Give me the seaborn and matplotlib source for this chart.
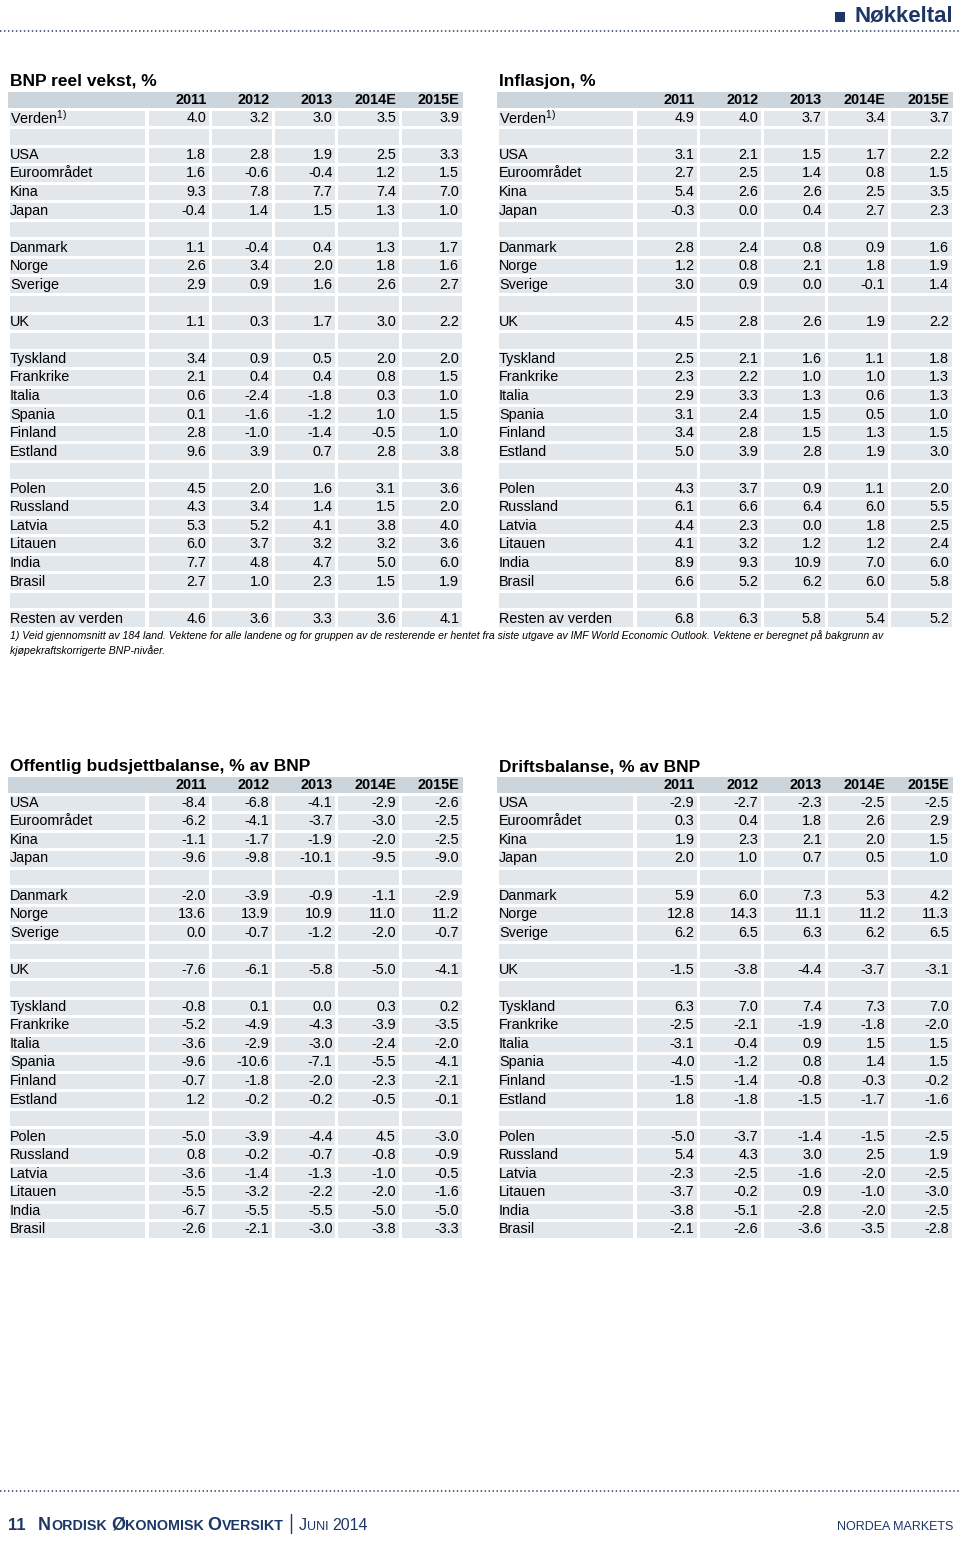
import numpy as np
import pandas as pd
import matplotlib
matplotlib.use('Agg')
import matplotlib.pyplot as plt
from matplotlib.colors import ListedColormap
from matplotlib.lines import Line2D
from matplotlib.patches import Rectangle
import seaborn as sns

sns.set_theme(style='white')
plt.rcParams['font.family'] = ['Liberation Sans', 'DejaVu Sans']
plt.rcParams['mathtext.fontset'] = 'custom'
plt.rcParams['mathtext.rm'] = 'Liberation Sans'
plt.rcParams['mathtext.it'] = 'Liberation Sans:italic'

years = ['2011', '2012', '2013', '2014E', '2015E']

top_rows = ['Verden$^{1)}$', '', 'USA', 'Euroområdet', 'Kina', 'Japan', '',
            'Danmark', 'Norge', 'Sverige', '', 'UK', '',
            'Tyskland', 'Frankrike', 'Italia', 'Spania', 'Finland', 'Estland', '',
            'Polen', 'Russland', 'Latvia', 'Litauen', 'India', 'Brasil', '',
            'Resten av verden']
bottom_rows = ['USA', 'Euroområdet', 'Kina', 'Japan', '',
               'Danmark', 'Norge', 'Sverige', '', 'UK', '',
               'Tyskland', 'Frankrike', 'Italia', 'Spania', 'Finland', 'Estland', '',
               'Polen', 'Russland', 'Latvia', 'Litauen', 'India', 'Brasil']

# BNP reel vekst, %
bnp = [[4.0, 3.2, 3.0, 3.5, 3.9], None,
       [1.8, 2.8, 1.9, 2.5, 3.3], [1.6, -0.6, -0.4, 1.2, 1.5],
       [9.3, 7.8, 7.7, 7.4, 7.0], [-0.4, 1.4, 1.5, 1.3, 1.0], None,
       [1.1, -0.4, 0.4, 1.3, 1.7], [2.6, 3.4, 2.0, 1.8, 1.6],
       [2.9, 0.9, 1.6, 2.6, 2.7], None,
       [1.1, 0.3, 1.7, 3.0, 2.2], None,
       [3.4, 0.9, 0.5, 2.0, 2.0], [2.1, 0.4, 0.4, 0.8, 1.5],
       [0.6, -2.4, -1.8, 0.3, 1.0], [0.1, -1.6, -1.2, 1.0, 1.5],
       [2.8, -1.0, -1.4, -0.5, 1.0], [9.6, 3.9, 0.7, 2.8, 3.8], None,
       [4.5, 2.0, 1.6, 3.1, 3.6], [4.3, 3.4, 1.4, 1.5, 2.0],
       [5.3, 5.2, 4.1, 3.8, 4.0], [6.0, 3.7, 3.2, 3.2, 3.6],
       [7.7, 4.8, 4.7, 5.0, 6.0], [2.7, 1.0, 2.3, 1.5, 1.9], None,
       [4.6, 3.6, 3.3, 3.6, 4.1]]

# Inflasjon, %
inflasjon = [[4.9, 4.0, 3.7, 3.4, 3.7], None,
             [3.1, 2.1, 1.5, 1.7, 2.2], [2.7, 2.5, 1.4, 0.8, 1.5],
             [5.4, 2.6, 2.6, 2.5, 3.5], [-0.3, 0.0, 0.4, 2.7, 2.3], None,
             [2.8, 2.4, 0.8, 0.9, 1.6], [1.2, 0.8, 2.1, 1.8, 1.9],
             [3.0, 0.9, 0.0, -0.1, 1.4], None,
             [4.5, 2.8, 2.6, 1.9, 2.2], None,
             [2.5, 2.1, 1.6, 1.1, 1.8], [2.3, 2.2, 1.0, 1.0, 1.3],
             [2.9, 3.3, 1.3, 0.6, 1.3], [3.1, 2.4, 1.5, 0.5, 1.0],
             [3.4, 2.8, 1.5, 1.3, 1.5], [5.0, 3.9, 2.8, 1.9, 3.0], None,
             [4.3, 3.7, 0.9, 1.1, 2.0], [6.1, 6.6, 6.4, 6.0, 5.5],
             [4.4, 2.3, 0.0, 1.8, 2.5], [4.1, 3.2, 1.2, 1.2, 2.4],
             [8.9, 9.3, 10.9, 7.0, 6.0], [6.6, 5.2, 6.2, 6.0, 5.8], None,
             [6.8, 6.3, 5.8, 5.4, 5.2]]

# Offentlig budsjettbalanse, % av BNP
budsjett = [[-8.4, -6.8, -4.1, -2.9, -2.6], [-6.2, -4.1, -3.7, -3.0, -2.5],
            [-1.1, -1.7, -1.9, -2.0, -2.5], [-9.6, -9.8, -10.1, -9.5, -9.0], None,
            [-2.0, -3.9, -0.9, -1.1, -2.9], [13.6, 13.9, 10.9, 11.0, 11.2],
            [0.0, -0.7, -1.2, -2.0, -0.7], None,
            [-7.6, -6.1, -5.8, -5.0, -4.1], None,
            [-0.8, 0.1, 0.0, 0.3, 0.2], [-5.2, -4.9, -4.3, -3.9, -3.5],
            [-3.6, -2.9, -3.0, -2.4, -2.0], [-9.6, -10.6, -7.1, -5.5, -4.1],
            [-0.7, -1.8, -2.0, -2.3, -2.1], [1.2, -0.2, -0.2, -0.5, -0.1], None,
            [-5.0, -3.9, -4.4, 4.5, -3.0], [0.8, -0.2, -0.7, -0.8, -0.9],
            [-3.6, -1.4, -1.3, -1.0, -0.5], [-5.5, -3.2, -2.2, -2.0, -1.6],
            [-6.7, -5.5, -5.5, -5.0, -5.0], [-2.6, -2.1, -3.0, -3.8, -3.3]]

# Driftsbalanse, % av BNP
drift = [[-2.9, -2.7, -2.3, -2.5, -2.5], [0.3, 0.4, 1.8, 2.6, 2.9],
         [1.9, 2.3, 2.1, 2.0, 1.5], [2.0, 1.0, 0.7, 0.5, 1.0], None,
         [5.9, 6.0, 7.3, 5.3, 4.2], [12.8, 14.3, 11.1, 11.2, 11.3],
         [6.2, 6.5, 6.3, 6.2, 6.5], None,
         [-1.5, -3.8, -4.4, -3.7, -3.1], None,
         [6.3, 7.0, 7.4, 7.3, 7.0], [-2.5, -2.1, -1.9, -1.8, -2.0],
         [-3.1, -0.4, 0.9, 1.5, 1.5], [-4.0, -1.2, 0.8, 1.4, 1.5],
         [-1.5, -1.4, -0.8, -0.3, -0.2], [1.8, -1.8, -1.5, -1.7, -1.6], None,
         [-5.0, -3.7, -1.4, -1.5, -2.5], [5.4, 4.3, 3.0, 2.5, 1.9],
         [-2.3, -2.5, -1.6, -2.0, -2.5], [-3.7, -0.2, 0.9, -1.0, -3.0],
         [-3.8, -5.1, -2.8, -2.0, -2.5], [-2.1, -2.6, -3.6, -3.5, -2.8]]

footnote = ('1) Veid gjennomsnitt av 184 land. Vektene for alle landene og for gruppen av de resterende er hentet '
            'fra siste utgave av IMF World Economic Outlook. Vektene er beregnet på bakgrunn av\n'
            'kjøpekraftskorrigerte BNP-nivåer.')

W, H = 960, 1541
CELL = '#e2e7ec'
HEAD = '#ccd4dc'
NAVY = '#1c3767'
ROW_H = 18.55
FS = 10.4

fig = plt.figure(figsize=(W / 100, H / 100), dpi=100)


def box(x0, y0, x1, y1):
    return [x0 / W, 1 - y1 / H, (x1 - x0) / W, (y1 - y0) / H]


def fx(x):
    return x / W


def fy(y):
    return 1 - y / H


def draw_table(x0, sep, x1, head_top, title, labels, rows):
    n = len(labels)
    y_top = head_top + 17
    y_bot = y_top + n * ROW_H
    colw = (x1 - sep - 1) / 5

    fig.text(fx(x0 + 2), fy(head_top - 5.5), title, fontsize=12.5, fontweight='bold',
             color='black', va='baseline')

    # header band
    hax = fig.add_axes(box(x0, head_top, x1, y_top - 0.7))
    hax.set_facecolor(HEAD)
    hax.set_xlim(x0, x1)
    hax.set_ylim(0, 1)
    hax.set_xticks([])
    hax.set_yticks([])
    for s in hax.spines.values():
        s.set_visible(False)
    for j, yr in enumerate(years):
        hax.text(sep + 1 + (j + 0.94) * colw, 0.45, yr, ha='right', va='center',
                 fontsize=FS, fontweight='bold', color='black')

    # label column
    lax = fig.add_axes(box(x0, y_top, sep - 0.5, y_bot))
    sns.heatmap(np.zeros((n, 1)), annot=np.array(labels, dtype=object).reshape(-1, 1), fmt='',
                cmap=ListedColormap([CELL]), cbar=False, linewidths=1.0, linecolor='white',
                xticklabels=False, yticklabels=False, ax=lax,
                annot_kws=dict(ha='left', color='black', fontsize=FS))
    for t in lax.texts:
        t.set_x(0.015)

    # numbers
    vals = pd.DataFrame([r if r is not None else [np.nan] * 5 for r in rows], columns=years)
    annot = vals.map(lambda v: '' if pd.isna(v) else f'{v:.1f}')
    nax = fig.add_axes(box(sep + 0.5, y_top, x1, y_bot))
    sns.heatmap(vals.fillna(0.0), annot=annot.values, fmt='',
                cmap=ListedColormap([CELL]), cbar=False, linewidths=1.0, linecolor='white',
                xticklabels=False, yticklabels=False, ax=nax,
                annot_kws=dict(ha='right', color='black', fontsize=FS))
    for t in nax.texts:
        x, y = t.get_position()
        t.set_position((x + 0.44, y))
    nax.set_xlabel('')
    nax.set_ylabel('')


draw_table(8, 146, 463, 91.5, 'BNP reel vekst, %', top_rows, bnp)
draw_table(497, 634, 953, 91.5, 'Inflasjon, %', top_rows, inflasjon)
draw_table(8, 146, 463, 776.5, 'Offentlig budsjettbalanse, % av BNP', bottom_rows, budsjett)
draw_table(497, 634, 953, 776.5, 'Driftsbalanse, % av BNP', bottom_rows, drift)

fig.text(fx(10), fy(630), footnote, fontsize=7.6, style='italic', color='black',
         va='top', linespacing=1.45)

# page header / footer
for yy in (31, 1491):
    fig.add_artist(Line2D([0, 1], [fy(yy), fy(yy)], transform=fig.transFigure,
                          color='#4a5a7a', lw=1.3, linestyle=(0, (0.8, 1.4))))

fig.add_artist(Rectangle((fx(835), fy(22)), 10 / W, 10 / H, transform=fig.transFigure,
                         color=NAVY, lw=0))
fig.text(fx(953), fy(22), 'Nøkkeltal', fontsize=16, fontweight='bold', color=NAVY,
         ha='right', va='baseline')

renderer = fig.canvas.get_renderer()


def small_caps(x, y, s, big, small, weight):
    for wi, word in enumerate(s.split(' ')):
        if wi > 0:
            t = fig.text(fx(x), fy(y), ' ', fontsize=small, fontweight=weight, color=NAVY)
            x += t.get_window_extent(renderer).width
        parts = [(word[0], big), (word[1:].upper(), small)] if word.isalpha() else [(word, big)]
        for txt, size in parts:
            if not txt:
                continue
            t = fig.text(fx(x), fy(y), txt, fontsize=size, fontweight=weight, color=NAVY,
                         va='baseline')
            x += t.get_window_extent(renderer).width
    return x


fig.text(fx(8), fy(1530), '11', fontsize=12, fontweight='bold', color=NAVY, va='baseline')
small_caps(38, 1530, 'Nordisk Økonomisk Oversikt', 13, 10.3, 'bold')
fig.add_artist(Line2D([fx(291), fx(291)], [fy(1514), fy(1533)], transform=fig.transFigure,
                      color=NAVY, lw=1))
small_caps(299, 1530, 'Juni 2014', 11.5, 9, 'normal')
fig.text(fx(953), fy(1530), 'NORDEA MARKETS', fontsize=9, color=NAVY, ha='right',
         va='baseline')

fig.savefig('out.png', dpi=100)
